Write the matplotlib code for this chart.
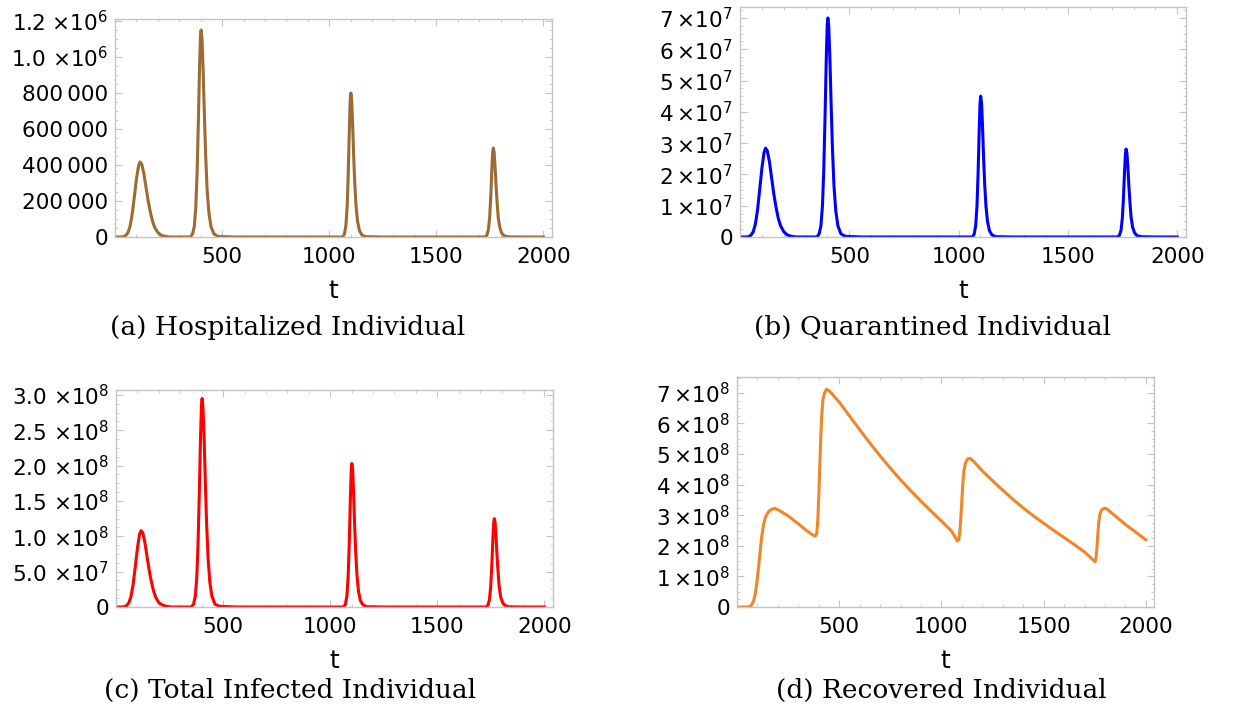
import matplotlib
matplotlib.use('Agg')
import matplotlib.pyplot as plt
from matplotlib.ticker import FixedLocator, MultipleLocator

# time grid shared by the three peak panels
t_peaks = [0, 30, 40, 50, 60, 70, 80, 90, 100, 110, 117, 125, 135, 145, 155, 165, 175, 185, 200, 215, 235, 260,
           352, 362, 370, 377, 383, 389, 395, 399, 402, 406, 411, 417, 423, 430, 438, 448, 462, 482, 560,
           1063, 1071, 1078, 1084, 1089, 1094, 1098, 1101, 1105, 1109, 1114, 1119, 1125, 1132, 1141, 1153, 1171, 1250,
           1728, 1736, 1743, 1749, 1754, 1759, 1763, 1766, 1770, 1774, 1779, 1784, 1789, 1796, 1805, 1817, 1835, 1900, 2000]

hospitalized = [0, 0, 2000, 8000, 23000, 58000, 125000, 220000, 321000, 396000, 417000, 404000, 350000, 275000, 200000,
                138000, 88000, 54000, 25000, 10000, 3000, 0,
                0, 17000, 57000, 161000, 345000, 632000, 954000, 1115000, 1150000, 1104000, 943000, 690000, 460000,
                264000, 138000, 57000, 17000, 3000, 0,
                0, 16000, 64000, 176000, 360000, 600000, 760000, 800000, 760000, 640000, 456000, 304000, 176000,
                88000, 36000, 10000, 2000, 0,
                0, 10000, 40000, 109000, 222000, 371000, 469000, 494000, 469000, 395000, 282000, 188000, 109000,
                54000, 22000, 6000, 1000, 0, 0]

quarantined = [0, 0, 0.014e7, 0.057e7, 0.16e7, 0.40e7, 0.85e7, 1.51e7, 2.19e7, 2.70e7, 2.84e7, 2.75e7, 2.39e7, 1.87e7,
               1.36e7, 0.94e7, 0.60e7, 0.37e7, 0.17e7, 0.07e7, 0.02e7, 0,
               0, 0.10e7, 0.35e7, 0.98e7, 2.10e7, 3.85e7, 5.81e7, 6.79e7, 7.00e7, 6.72e7, 5.74e7, 4.20e7, 2.80e7,
               1.61e7, 0.84e7, 0.35e7, 0.10e7, 0.02e7, 0,
               0, 0.09e7, 0.36e7, 0.99e7, 2.03e7, 3.38e7, 4.28e7, 4.50e7, 4.28e7, 3.60e7, 2.57e7, 1.71e7, 0.99e7,
               0.50e7, 0.20e7, 0.06e7, 0.01e7, 0,
               0, 0.06e7, 0.22e7, 0.62e7, 1.26e7, 2.11e7, 2.67e7, 2.81e7, 2.67e7, 2.25e7, 1.60e7, 1.07e7, 0.62e7,
               0.31e7, 0.13e7, 0.04e7, 0.01e7, 0, 0]

total_infected = [0, 0, 0.005e8, 0.02e8, 0.06e8, 0.15e8, 0.32e8, 0.57e8, 0.83e8, 1.03e8, 1.08e8, 1.05e8, 0.91e8, 0.71e8,
                  0.52e8, 0.36e8, 0.23e8, 0.14e8, 0.06e8, 0.03e8, 0.01e8, 0,
                  0, 0.04e8, 0.15e8, 0.41e8, 0.89e8, 1.62e8, 2.45e8, 2.86e8, 2.95e8, 2.83e8, 2.42e8, 1.77e8, 1.18e8,
                  0.68e8, 0.35e8, 0.15e8, 0.04e8, 0.01e8, 0,
                  0, 0.04e8, 0.16e8, 0.45e8, 0.91e8, 1.52e8, 1.93e8, 2.03e8, 1.93e8, 1.62e8, 1.16e8, 0.77e8, 0.45e8,
                  0.22e8, 0.09e8, 0.03e8, 0.004e8, 0,
                  0, 0.025e8, 0.10e8, 0.28e8, 0.56e8, 0.94e8, 1.19e8, 1.25e8, 1.19e8, 1.00e8, 0.71e8, 0.48e8, 0.28e8,
                  0.14e8, 0.06e8, 0.02e8, 0.003e8, 0, 0]

t_recovered = [0, 50, 60, 70, 80, 90, 100, 110, 120, 130, 140, 155, 170, 185, 200, 250, 300, 340, 365, 380,
               385, 390, 395, 400, 405, 410, 415, 420, 428, 438, 450, 500, 550, 600, 650, 700, 750, 800, 850, 900,
               950, 1000, 1050, 1078, 1085, 1090, 1095, 1100, 1105, 1110, 1118, 1128, 1140, 1155, 1200, 1250, 1300,
               1350, 1400, 1450, 1500, 1550, 1600, 1650, 1700, 1740, 1752, 1755, 1760, 1765, 1770, 1776, 1785, 1797,
               1810, 1850, 1900, 1950, 2000]
recovered = [0, 0, 0.01e8, 0.05e8, 0.18e8, 0.45e8, 0.95e8, 1.6e8, 2.25e8, 2.7e8, 2.95e8, 3.12e8, 3.2e8, 3.22e8,
             3.18e8, 2.98e8, 2.72e8, 2.5e8, 2.38e8, 2.32e8,
             2.33e8, 2.4e8, 2.8e8, 3.6e8, 4.6e8, 5.6e8, 6.3e8, 6.75e8, 7.0e8, 7.12e8, 7.08e8, 6.7e8, 6.25e8, 5.8e8,
             5.36e8, 4.94e8, 4.54e8, 4.16e8, 3.8e8, 3.46e8, 3.13e8, 2.81e8, 2.48e8, 2.16e8, 2.2e8, 2.45e8, 2.9e8,
             3.5e8, 4.05e8, 4.45e8, 4.72e8, 4.84e8, 4.86e8, 4.78e8, 4.45e8, 4.13e8, 3.82e8, 3.52e8, 3.24e8, 2.98e8,
             2.74e8, 2.5e8, 2.27e8, 2.04e8, 1.8e8, 1.55e8, 1.48e8, 1.55e8, 1.85e8, 2.35e8, 2.8e8, 3.05e8, 3.18e8,
             3.23e8, 3.2e8, 2.98e8, 2.7e8, 2.45e8, 2.2e8]

xticks = [500, 1000, 1500, 2000]

yticks_a = [0, 200000, 400000, 600000, 800000, 1000000, 1200000]
ylabels_a = ['0', '200\u2009000', '400\u2009000', '600\u2009000', '800\u2009000',
             '1.0 \u00d710$^{6}$', '1.2 \u00d710$^{6}$']
yticks_b = [0, 1e7, 2e7, 3e7, 4e7, 5e7, 6e7, 7e7]
ylabels_b = ['0'] + ['%d\u2009\u00d710$^{7}$' % k for k in range(1, 8)]
yticks_c = [0, 5e7, 1e8, 1.5e8, 2e8, 2.5e8, 3e8]
ylabels_c = ['0', '5.0 \u00d710$^{7}$', '1.0 \u00d710$^{8}$', '1.5 \u00d710$^{8}$', '2.0 \u00d710$^{8}$',
             '2.5 \u00d710$^{8}$', '3.0 \u00d710$^{8}$']
yticks_d = [0, 1e8, 2e8, 3e8, 4e8, 5e8, 6e8, 7e8]
ylabels_d = ['0'] + ['%d\u2009\u00d710$^{8}$' % k for k in range(1, 8)]

plt.rcParams['mathtext.fontset'] = 'dejavusans'
frame_col = '#c4c4c4'

fig = plt.figure(figsize=(12.34, 7.15), dpi=100)
W, H = 1234.0, 715.0


def panel(l, r, top, bot, tt, yy, color, yticks, ylabels, ytop, yminor, caption, cap_x, cap_y):
    ax = fig.add_axes([l / W, 1 - bot / H, (r - l) / W, (bot - top) / H])
    ax.plot(tt, yy, color=color, lw=2.2, solid_joinstyle='round')
    ax.set_xlim(0, 2040)
    ax.set_ylim(0, ytop)
    ax.xaxis.set_major_locator(FixedLocator(xticks))
    ax.xaxis.set_minor_locator(MultipleLocator(100))
    ax.yaxis.set_major_locator(FixedLocator(yticks))
    ax.set_yticklabels(ylabels)
    ax.yaxis.set_minor_locator(MultipleLocator(yminor))
    for s in ax.spines.values():
        s.set_color(frame_col)
        s.set_linewidth(1.0)
    ax.tick_params(which='both', direction='in', top=True, right=True, color=frame_col,
                   labelsize=15.5, labelcolor='black')
    ax.tick_params(which='major', length=5, pad=5)
    ax.tick_params(axis='x', which='major', pad=7)
    ax.tick_params(which='minor', length=2.5)
    ax.set_xlabel('t', fontsize=18, labelpad=9)
    fig.text(cap_x / W, 1 - cap_y / H, caption, ha='center', va='center',
             fontsize=19, family='DejaVu Serif')
    return ax


panel(115, 552, 19, 237, t_peaks, hospitalized, '#9c6a33', yticks_a, ylabels_a, 1.211e6, 50000,
      '(a) Hospitalized Individual', 288, 327)
panel(740, 1186, 7, 237, t_peaks, quarantined, '#0000ff', yticks_b, ylabels_b, 7.35e7, 2.5e6,
      '(b) Quarantined Individual', 932, 327)
panel(116, 553, 390, 607, t_peaks, total_infected, '#ff0000', yticks_c, ylabels_c, 3.07e8, 1.25e7,
      '(c) Total Infected Individual', 290, 690)
panel(737, 1154, 377, 607, t_recovered, recovered, '#f0862a', yticks_d, ylabels_d, 7.52e8, 2.5e7,
      '(d) Recovered Individual', 941, 690)

fig.savefig('out.png', dpi=100)
